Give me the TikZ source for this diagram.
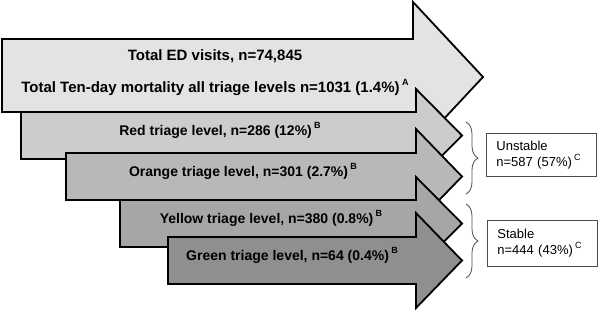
\documentclass[tikz,border=0pt]{standalone}
\usepackage{fontspec}
\setmainfont{Liberation Sans}
\usetikzlibrary{decorations.pathreplacing}
\definecolor{lvtotal}{gray}{0.89}
\definecolor{lvred}{gray}{0.80}
\definecolor{lvorange}{gray}{0.72}
\definecolor{lvyellow}{gray}{0.65}
\definecolor{lvgreen}{gray}{0.56}
\newcommand\supmark[1]{\raisebox{0.45em}{\fontsize{9}{9}\selectfont #1}}

\begin{document}
\begin{tikzpicture}[x=1pt,y=-1pt,
  band/.style={draw,line width=1.8pt},
  level/.style={font=\fontsize{14}{16}\selectfont\bfseries,anchor=base,inner sep=0pt},
  group/.style={draw=black!70,line width=0.8pt,anchor=north west,text width=90pt,
    minimum height=43pt,align=left,inner xsep=10pt,font=\fontsize{13}{16}\selectfont},
  brace/.style={decorate,decoration={brace,amplitude=12pt},draw=black!70,line width=0.8pt}]
\useasboundingbox (0,0) rectangle (598,311);
\draw[band,fill=lvtotal] (2,39) -- (413,39) -- (413,2) -- (483,77) -- (413,152) -- (413,112) -- (2,112) -- cycle;
\draw[band,fill=lvred] (21,112) -- (416,112) -- (416,89) -- (462,135.5) -- (416,182) -- (416,159) -- (21,159) -- cycle;
\draw[band,fill=lvorange] (66,153) -- (416,153) -- (416,129) -- (462,176.5) -- (416,224) -- (416,200) -- (66,200) -- cycle;
\draw[band,fill=lvyellow] (120,200) -- (416,200) -- (416,177) -- (462,223.5) -- (416,270) -- (416,247) -- (120,247) -- cycle;
\draw[band,fill=lvgreen] (168,237) -- (416,237) -- (416,213) -- (462,260.5) -- (416,308) -- (416,284) -- (168,284) -- cycle;
\node[level,font=\fontsize{15}{17}\selectfont\bfseries] (visits) at (215,60) {Total ED visits, n=74,845};
\node[level,font=\fontsize{15}{17}\selectfont\bfseries] (mortality) at (215,92) {Total Ten-day mortality all triage levels n=1031 (1.4\%)\,\supmark{A}};
\node[level] (red) at (220,135) {Red triage level, n=286 (12\%)\,\supmark{B}};
\node[level] (orange) at (243,176) {Orange triage level, n=301 (2.7\%)\,\supmark{B}};
\node[level] (yellow) at (271,223) {Yellow triage level, n=380 (0.8\%)\,\supmark{B}};
\node[level] (green) at (292,260) {Green triage level, n=64 (0.4\%)\,\supmark{B}};
\node[group] (unstable) at (486,133) {Unstable\\n=587 (57\%)\,\supmark{C}};
\node[group,minimum height=46pt] (stable) at (487,220) {Stable\\n=444 (43\%)\,\supmark{C}};
\coordinate (utop) at (466,122);
\coordinate (ubot) at (466,194);
\coordinate (stop) at (466,204);
\coordinate (sbot) at (466,278);
\draw[brace] (utop) -- (ubot);
\draw[brace] (stop) -- (sbot);
\end{tikzpicture}
\end{document}
